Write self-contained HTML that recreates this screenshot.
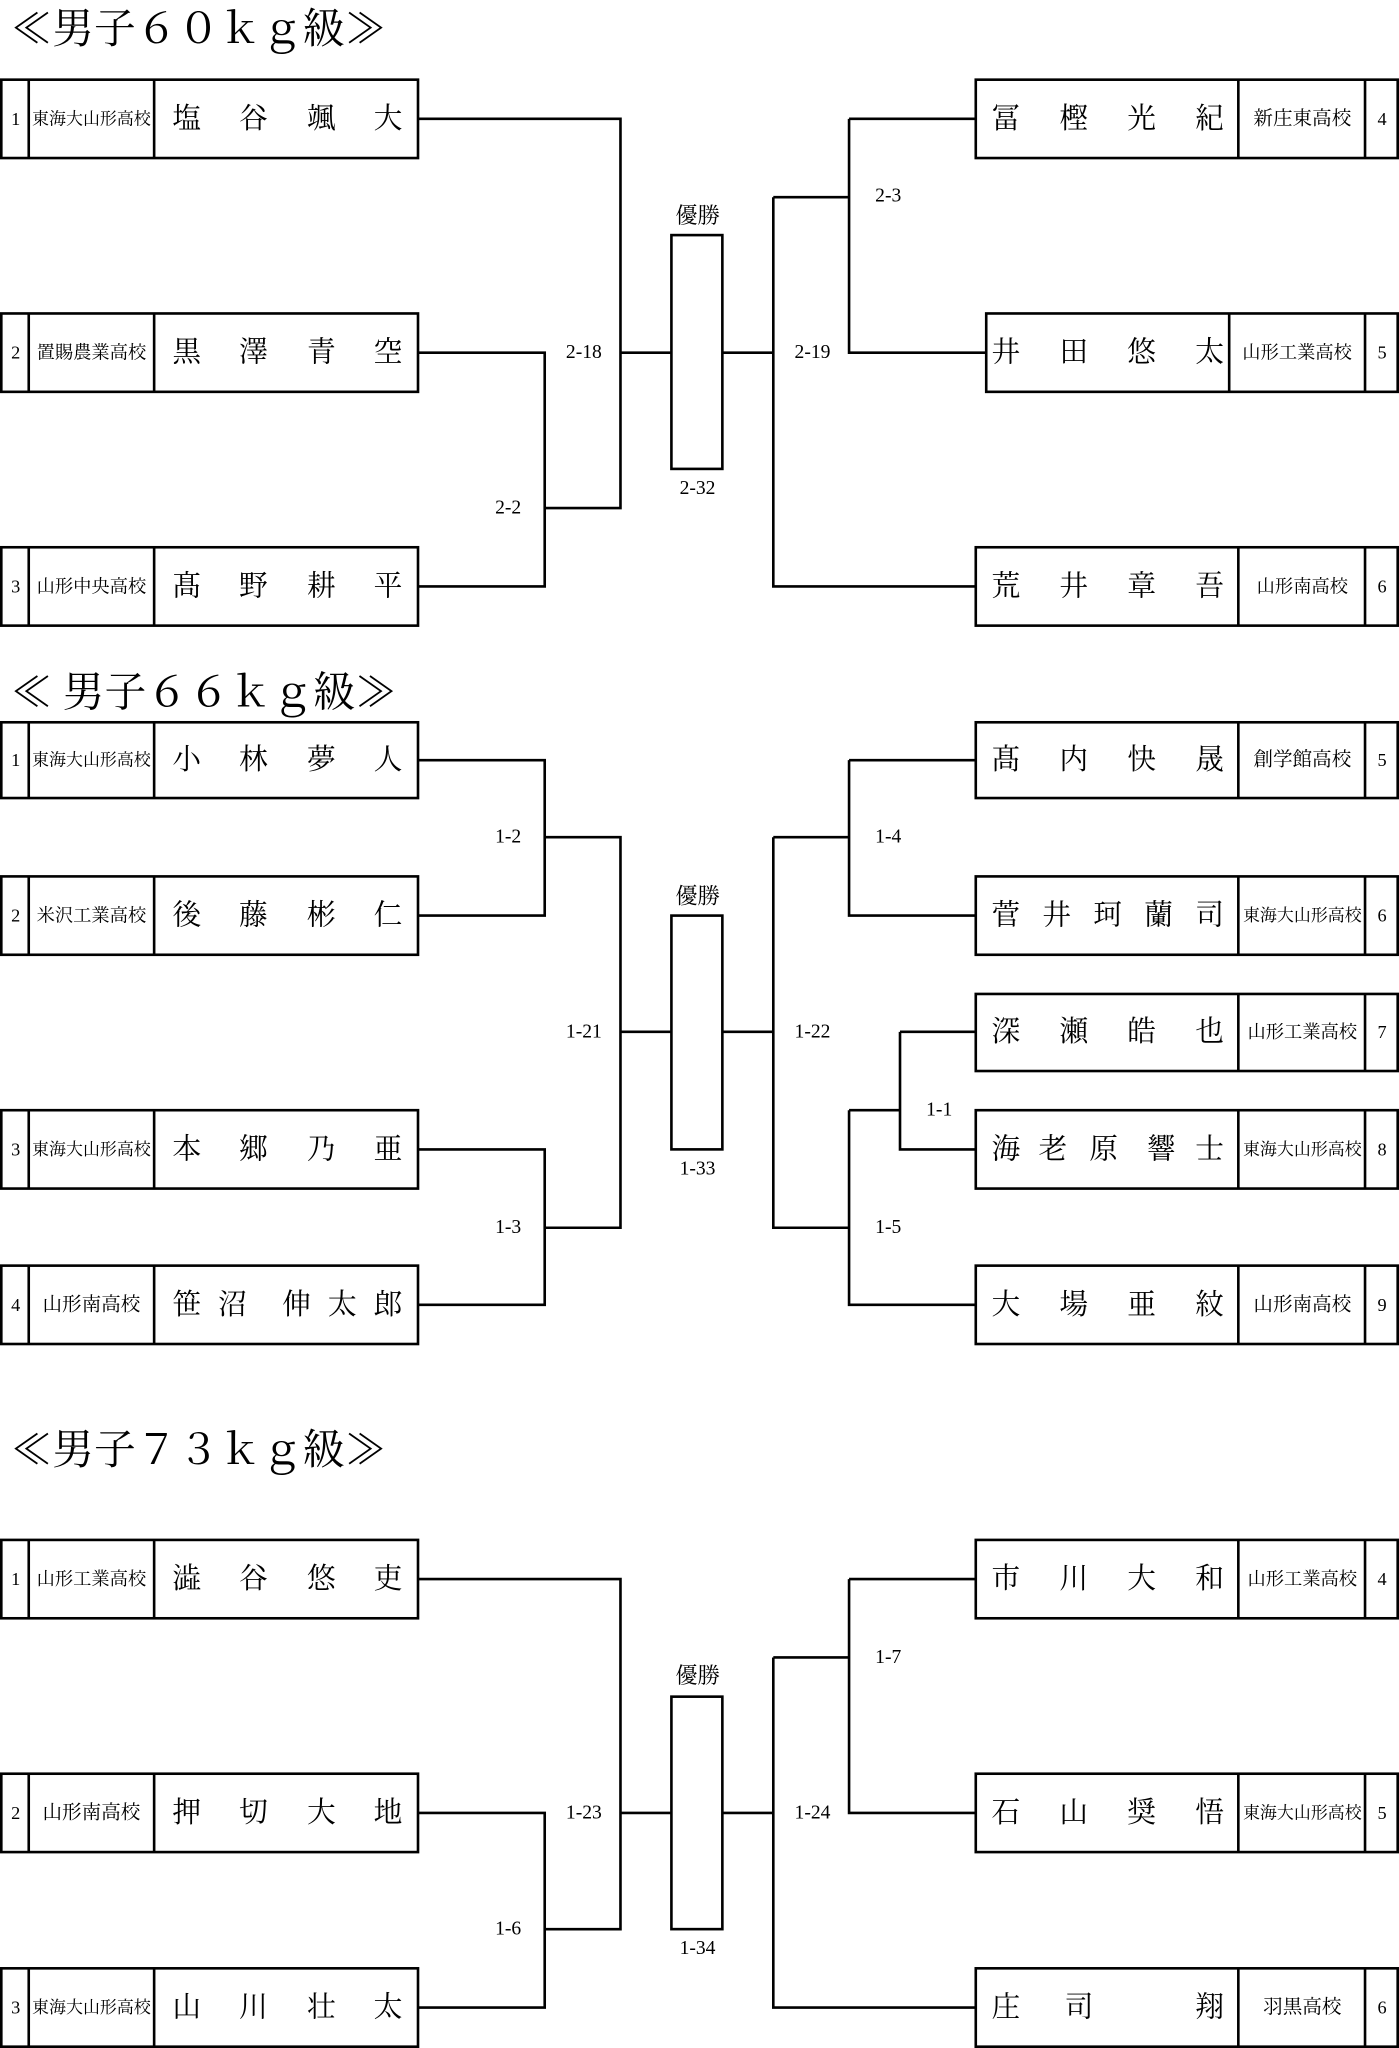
<!DOCTYPE html>
<html><head><meta charset="utf-8"><style>
html,body{margin:0;padding:0;background:#fff;}
svg{display:block;}
text{font-family:"Liberation Serif","Noto Serif CJK JP","Noto Sans CJK JP",serif;fill:#000;}
.t{font-size:32px;}
.nm{font-size:22px;text-anchor:middle;dominant-baseline:central;}
.sc{font-size:13px;text-anchor:middle;dominant-baseline:central;}
.nu{font-size:14px;text-anchor:middle;dominant-baseline:central;}
.lb{font-size:15px;text-anchor:middle;dominant-baseline:central;}
rect,line,path{stroke:#000;stroke-width:2;fill:none;}
</style></head><body>
<svg width="1399" height="2048" viewBox="0 0 1071 1568" preserveAspectRatio="none" xmlns="http://www.w3.org/2000/svg">
<!-- ===== 60kg ===== -->
<text class="t" x="8" y="33">≪男子６０ｋｇ級≫</text>
<g>
<rect x="1" y="61" width="319" height="60"/><line x1="22" y1="61" x2="22" y2="121"/><line x1="118" y1="61" x2="118" y2="121"/>
<text class="nu" x="12" y="91">1</text><text class="sc" x="70" y="91">東海大山形高校</text>
<text class="nm" x="143 194 246 297" y="91">塩谷颯大</text>
<rect x="1" y="240" width="319" height="60"/><line x1="22" y1="240" x2="22" y2="300"/><line x1="118" y1="240" x2="118" y2="300"/>
<text class="nu" x="12" y="270">2</text><text class="sc" x="70" y="270" style="font-size:14px">置賜農業高校</text>
<text class="nm" x="143 194 246 297" y="270">黒澤青空</text>
<rect x="1" y="419" width="319" height="60"/><line x1="22" y1="419" x2="22" y2="479"/><line x1="118" y1="419" x2="118" y2="479"/>
<text class="nu" x="12" y="449">3</text><text class="sc" x="70" y="449" style="font-size:14px">山形中央高校</text>
<text class="nm" x="143 194 246 297" y="449">髙野耕平</text>
</g>
<g>
<rect x="747" y="61" width="323" height="60"/><line x1="948" y1="61" x2="948" y2="121"/><line x1="1045" y1="61" x2="1045" y2="121"/>
<text class="nm" x="770 822 874 926" y="91">冨樫光紀</text><text class="sc" x="997" y="91" style="font-size:15px">新庄東高校</text><text class="nu" x="1058" y="91">4</text>
<rect x="755" y="240" width="315" height="60"/><line x1="941" y1="240" x2="941" y2="300"/><line x1="1045" y1="240" x2="1045" y2="300"/>
<text class="nm" x="770 822 874 926" y="270">井田悠太</text><text class="sc" x="993" y="270" style="font-size:14px">山形工業高校</text><text class="nu" x="1058" y="270">5</text>
<rect x="747" y="419" width="323" height="60"/><line x1="948" y1="419" x2="948" y2="479"/><line x1="1045" y1="419" x2="1045" y2="479"/>
<text class="nm" x="770 822 874 926" y="449">荒井章吾</text><text class="sc" x="997" y="449" style="font-size:14px">山形南高校</text><text class="nu" x="1058" y="449">6</text>
</g>
<path d="M320 91H475V389H417 M320 270H417V449H320 M475 270H514 M553 270H592 M592 151V449H747 M592 151H650 M650 91V270H755 M650 91H747"/>
<rect x="514" y="180" width="39" height="179"/>
<text class="lb" x="534" y="165" style="font-size:17px">優勝</text>
<text class="lb" x="534" y="374">2-32</text>
<text class="lb" x="447" y="270">2-18</text>
<text class="lb" x="389" y="389">2-2</text>
<text class="lb" x="622" y="270">2-19</text>
<text class="lb" x="680" y="150">2-3</text>

<!-- ===== 66kg ===== -->
<text class="t" x="8" y="541">≪ 男子６６ｋｇ級≫</text>
<g>
<rect x="1" y="553" width="319" height="58"/><line x1="22" y1="553" x2="22" y2="611"/><line x1="118" y1="553" x2="118" y2="611"/>
<text class="nu" x="12" y="582">1</text><text class="sc" x="70" y="582">東海大山形高校</text>
<text class="nm" x="143 194 246 297" y="582">小林夢人</text>
<rect x="1" y="671" width="319" height="60"/><line x1="22" y1="671" x2="22" y2="731"/><line x1="118" y1="671" x2="118" y2="731"/>
<text class="nu" x="12" y="701">2</text><text class="sc" x="70" y="701" style="font-size:14px">米沢工業高校</text>
<text class="nm" x="143 194 246 297" y="701">後藤彬仁</text>
<rect x="1" y="850" width="319" height="60"/><line x1="22" y1="850" x2="22" y2="910"/><line x1="118" y1="850" x2="118" y2="910"/>
<text class="nu" x="12" y="880">3</text><text class="sc" x="70" y="880">東海大山形高校</text>
<text class="nm" x="143 194 246 297" y="880">本郷乃亜</text>
<rect x="1" y="969" width="319" height="60"/><line x1="22" y1="969" x2="22" y2="1029"/><line x1="118" y1="969" x2="118" y2="1029"/>
<text class="nu" x="12" y="999">4</text><text class="sc" x="70" y="999" style="font-size:15px">山形南高校</text>
<text class="nm" x="143 178 227 262 297" y="999">笹沼伸太郎</text>
</g>
<g>
<rect x="747" y="553" width="323" height="58"/><line x1="948" y1="553" x2="948" y2="611"/><line x1="1045" y1="553" x2="1045" y2="611"/>
<text class="nm" x="770 822 874 926" y="582">髙内快晟</text><text class="sc" x="997" y="582" style="font-size:15px">創学館高校</text><text class="nu" x="1058" y="582">5</text>
<rect x="747" y="671" width="323" height="60"/><line x1="948" y1="671" x2="948" y2="731"/><line x1="1045" y1="671" x2="1045" y2="731"/>
<text class="nm" x="770 809 848 887 926" y="701">菅井珂蘭司</text><text class="sc" x="997" y="701">東海大山形高校</text><text class="nu" x="1058" y="701">6</text>
<rect x="747" y="761" width="323" height="59"/><line x1="948" y1="761" x2="948" y2="820"/><line x1="1045" y1="761" x2="1045" y2="820"/>
<text class="nm" x="770 822 874 926" y="790">深瀬皓也</text><text class="sc" x="997" y="790" style="font-size:14px">山形工業高校</text><text class="nu" x="1058" y="790">7</text>
<rect x="747" y="850" width="323" height="60"/><line x1="948" y1="850" x2="948" y2="910"/><line x1="1045" y1="850" x2="1045" y2="910"/>
<text class="nm" x="770 806 845 889 926" y="880">海老原響士</text><text class="sc" x="997" y="880">東海大山形高校</text><text class="nu" x="1058" y="880">8</text>
<rect x="747" y="969" width="323" height="60"/><line x1="948" y1="969" x2="948" y2="1029"/><line x1="1045" y1="969" x2="1045" y2="1029"/>
<text class="nm" x="770 822 874 926" y="999">大場亜紋</text><text class="sc" x="997" y="999" style="font-size:15px">山形南高校</text><text class="nu" x="1058" y="999">9</text>
</g>
<path d="M320 582H417V701H320 M417 641H475V940H417 M320 880H417V999H320 M475 790H514 M553 790H592 M592 641V940H650 M592 641H650 M650 582H747 M650 582V701H747 M650 850V999H747 M650 850H689 M689 790V880H747 M689 790H747"/>
<rect x="514" y="701" width="39" height="179"/>
<text class="lb" x="534" y="686" style="font-size:17px">優勝</text>
<text class="lb" x="534" y="895">1-33</text>
<text class="lb" x="389" y="641">1-2</text>
<text class="lb" x="447" y="790">1-21</text>
<text class="lb" x="389" y="940">1-3</text>
<text class="lb" x="622" y="790">1-22</text>
<text class="lb" x="680" y="641">1-4</text>
<text class="lb" x="719" y="850">1-1</text>
<text class="lb" x="680" y="940">1-5</text>

<!-- ===== 73kg ===== -->
<text class="t" x="8" y="1121">≪男子７３ｋｇ級≫</text>
<g>
<rect x="1" y="1179" width="319" height="60"/><line x1="22" y1="1179" x2="22" y2="1239"/><line x1="118" y1="1179" x2="118" y2="1239"/>
<text class="nu" x="12" y="1209">1</text><text class="sc" x="70" y="1209" style="font-size:14px">山形工業高校</text>
<text class="nm" x="143 194 246 297" y="1209">澁谷悠吏</text>
<rect x="1" y="1358" width="319" height="60"/><line x1="22" y1="1358" x2="22" y2="1418"/><line x1="118" y1="1358" x2="118" y2="1418"/>
<text class="nu" x="12" y="1388">2</text><text class="sc" x="70" y="1388" style="font-size:15px">山形南高校</text>
<text class="nm" x="143 194 246 297" y="1388">押切大地</text>
<rect x="1" y="1507" width="319" height="60"/><line x1="22" y1="1507" x2="22" y2="1567"/><line x1="118" y1="1507" x2="118" y2="1567"/>
<text class="nu" x="12" y="1537">3</text><text class="sc" x="70" y="1537">東海大山形高校</text>
<text class="nm" x="143 194 246 297" y="1537">山川壮太</text>
</g>
<g>
<rect x="747" y="1179" width="323" height="60"/><line x1="948" y1="1179" x2="948" y2="1239"/><line x1="1045" y1="1179" x2="1045" y2="1239"/>
<text class="nm" x="770 822 874 926" y="1209">市川大和</text><text class="sc" x="997" y="1209" style="font-size:14px">山形工業高校</text><text class="nu" x="1058" y="1209">4</text>
<rect x="747" y="1358" width="323" height="60"/><line x1="948" y1="1358" x2="948" y2="1418"/><line x1="1045" y1="1358" x2="1045" y2="1418"/>
<text class="nm" x="770 822 874 926" y="1388">石山奨悟</text><text class="sc" x="997" y="1388">東海大山形高校</text><text class="nu" x="1058" y="1388">5</text>
<rect x="747" y="1507" width="323" height="60"/><line x1="948" y1="1507" x2="948" y2="1567"/><line x1="1045" y1="1507" x2="1045" y2="1567"/>
<text class="nm" x="770 826 926" y="1537">庄司翔</text><text class="sc" x="997" y="1537" style="font-size:15px">羽黒高校</text><text class="nu" x="1058" y="1537">6</text>
</g>
<path d="M320 1209H475V1477H417 M320 1388H417V1537H320 M475 1388H514 M553 1388H592 M592 1269V1537H747 M592 1269H650 M650 1209V1388H747 M650 1209H747"/>
<rect x="514" y="1299" width="39" height="178"/>
<text class="lb" x="534" y="1283" style="font-size:17px">優勝</text>
<text class="lb" x="534" y="1492">1-34</text>
<text class="lb" x="447" y="1388">1-23</text>
<text class="lb" x="389" y="1477">1-6</text>
<text class="lb" x="622" y="1388">1-24</text>
<text class="lb" x="680" y="1269">1-7</text>
</svg>
</body></html>
